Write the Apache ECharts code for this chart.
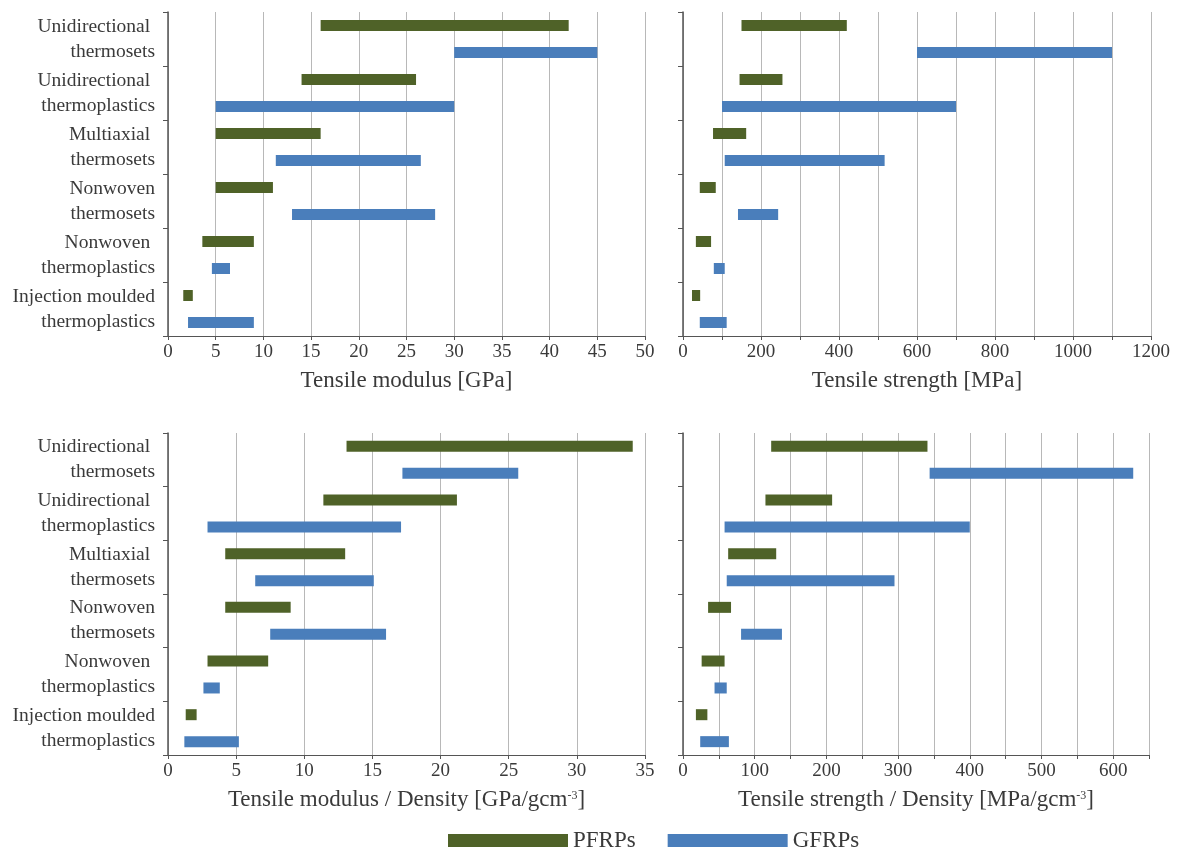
<!DOCTYPE html>
<html>
<head>
<meta charset="utf-8">
<style>
  html, body { margin: 0; padding: 0; background: #ffffff; }
  #chart { width: 1177px; height: 852px; }
</style>
<script src="https://cdn.jsdelivr.net/npm/echarts@6/dist/echarts.min.js"></script>
</head>
<body>
<div id="chart"></div>
<script>
// ---- Data (ranges [min, max]) ----
const categories = [
  'Unidirectional \nthermosets',
  'Unidirectional \nthermoplastics',
  'Multiaxial \nthermosets',
  'Nonwoven\nthermosets',
  'Nonwoven \nthermoplastics',
  'Injection moulded\nthermoplastics'
];
const seriesNames = ['PFRPs', 'GFRPs'];

const modulusPFRP  = [[16, 42], [14, 26], [5, 16], [5, 11], [3.6, 9], [1.6, 2.6]];
const modulusGFRP  = [[30, 45], [5, 30], [11.3, 26.5], [13, 28], [4.6, 6.5], [2.1, 9]];

const strengthPFRP = [[150, 420], [145, 255], [77, 162], [43, 84], [33, 72], [23, 44]];
const strengthGFRP = [[600, 1100], [100, 700], [107, 517], [141, 244], [79, 107], [43, 112]];

const specModulusPFRP = [[13.1, 34.1], [11.4, 21.2], [4.2, 13], [4.2, 9], [2.9, 7.35], [1.3, 2.1]];
const specModulusGFRP = [[17.2, 25.7], [2.9, 17.1], [6.4, 15.1], [7.5, 16], [2.6, 3.8], [1.2, 5.2]];

const specStrengthPFRP = [[123, 341], [115, 208], [63, 130], [35, 67], [26, 58], [18, 34]];
const specStrengthGFRP = [[344, 628], [58, 400], [61, 295], [81, 138], [44, 61], [24, 64]];

const axisTitles = [
  'Tensile modulus [GPa]',
  'Tensile strength [MPa]',
  'Tensile modulus / Density [GPa/gcm{sup|-3}]',
  'Tensile strength / Density [MPa/gcm{sup|-3}]'
];
// x axis scale: [max, gridInterval, labelEvery]
const axisScales = [[50, 5, 5], [1200, 100, 200], [35, 5, 5], [650, 50, 100]];

// ---- Styling ----
const FONT = 'Liberation Serif';
const GREEN = '#4f6228';
const BLUE = '#4a7ebb';
const TEXT = '#3a3a3a';

const panels = [
  { pf: modulusPFRP, gf: modulusGFRP, grid: { left: 168, top: 12, width: 477, height: 324 }, labels: true },
  { pf: strengthPFRP, gf: strengthGFRP, grid: { left: 683, top: 12, width: 468, height: 324 }, labels: false },
  { pf: specModulusPFRP, gf: specModulusGFRP, grid: { left: 168, top: 433, width: 477, height: 322 }, labels: true },
  { pf: specStrengthPFRP, gf: specStrengthGFRP, grid: { left: 683, top: 433, width: 466, height: 322 }, labels: false }
];

const grids = [], xAxes = [], yAxes = [], series = [];
panels.forEach((p, i) => {
  grids.push(p.grid);
  const [max, step, every] = axisScales[i];
  xAxes.push({
    type: 'value', gridIndex: i, min: 0, max: max, interval: step,
    axisLine: { show: true, lineStyle: { color: '#555', width: 1 } },
    axisTick: { show: true, length: 4, lineStyle: { color: '#555' } },
    splitLine: { show: true, lineStyle: { color: '#b8b8b8', width: 1 } },
    axisLabel: {
      fontFamily: FONT, fontSize: 19, color: TEXT, margin: 7,
      formatter: v => (Math.round(v) % every === 0 ? String(v) : '')
    },
    name: axisTitles[i], nameLocation: 'middle', nameGap: 33,
    nameTextStyle: {
      fontFamily: FONT, fontSize: 23, color: TEXT,
      rich: { sup: { fontFamily: FONT, fontSize: 12, color: TEXT, verticalAlign: 'top', padding: [2, 0, 0, 0] } }
    }
  });
  yAxes.push({
    type: 'category', gridIndex: i, data: categories, inverse: true,
    axisLine: { show: true, lineStyle: { color: '#555', width: 1.5 } },
    axisTick: { show: true, length: 5, inside: false, lineStyle: { color: '#555' } },
    splitLine: { show: false },
    axisLabel: {
      show: p.labels, fontFamily: FONT, fontSize: 19.5, color: TEXT,
      lineHeight: 25, margin: 13, align: 'right'
    }
  });
  [[p.pf, seriesNames[0], GREEN, 'p' + i], [p.gf, seriesNames[1], BLUE, 'g' + i]].forEach(([rng, name, color, stack]) => {
    series.push({
      type: 'bar', xAxisIndex: i, yAxisIndex: i, stack: stack, name: name + '_base',
      data: rng.map(r => r[0]), itemStyle: { color: 'rgba(0,0,0,0)' },
      barWidth: 11, barGap: '145%', silent: true, tooltip: { show: false }
    });
    series.push({
      type: 'bar', xAxisIndex: i, yAxisIndex: i, stack: stack, name: name,
      data: rng.map(r => +(r[1] - r[0]).toFixed(4)), itemStyle: { color: color },
      barWidth: 11, barGap: '145%'
    });
  });
});

const chart = echarts.init(document.getElementById('chart'), null, { renderer: 'canvas' });
chart.setOption({
  animation: false,
  backgroundColor: '#ffffff',
  grid: grids,
  xAxis: xAxes,
  yAxis: yAxes,
  legend: {
    data: seriesNames, left: 443, top: 824, icon: 'rect',
    itemWidth: 120, itemHeight: 13, itemGap: 32,
    textStyle: { fontFamily: FONT, fontSize: 23, color: TEXT }
  },
  series: series
});
</script>
</body>
</html>
